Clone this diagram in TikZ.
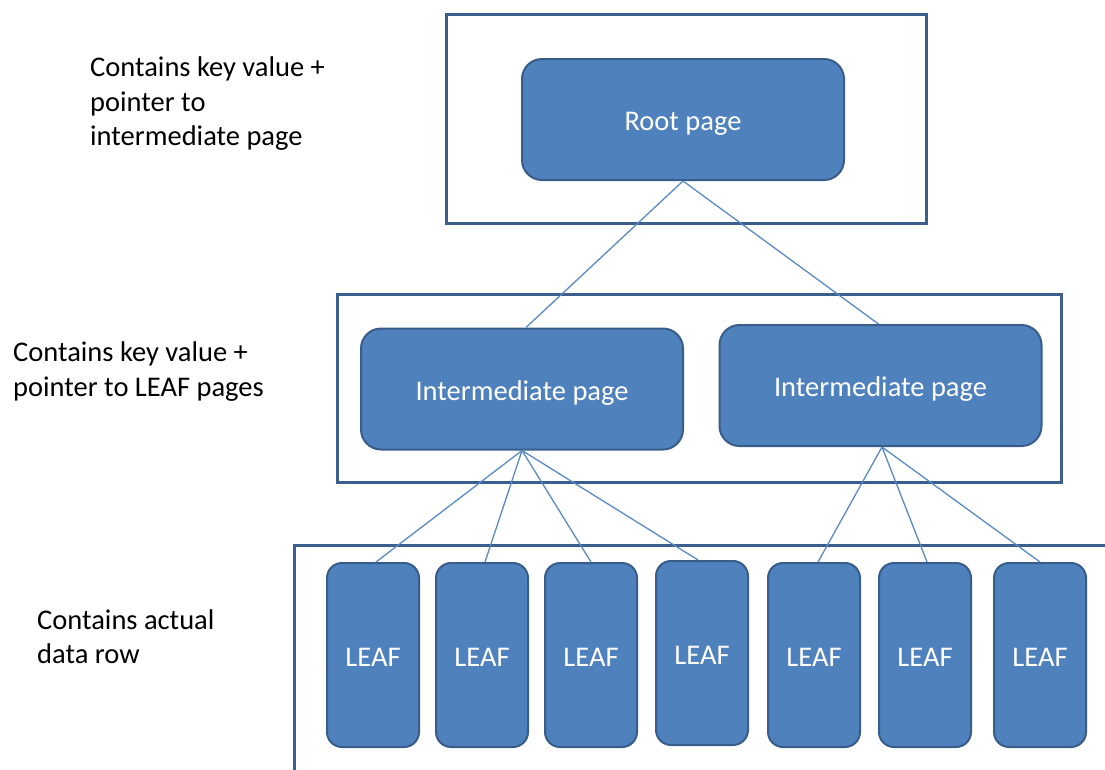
\documentclass[tikz,border=0pt]{standalone}
\usepackage{fontspec}
\setmainfont{Carlito}
\definecolor{boxfill}{HTML}{4F81BD}
\definecolor{boxline}{HTML}{385D8A}
\definecolor{framecol}{HTML}{3A5F8C}
\definecolor{linkcol}{HTML}{5A8AC6}
\tikzset{
  frame/.style={draw=framecol, line width=3pt},
  page/.style={draw=boxline, fill=boxfill, line width=2pt, text=white,
    rounded corners=20pt, minimum width=322pt, minimum height=121pt,
    inner sep=0pt, text height=22pt, text depth=0pt,
    font=\fontsize{28.5}{34}\selectfont},
  leafpage/.style={page, rounded corners=15pt, minimum width=92pt, minimum height=184pt},
  link/.style={draw=linkcol, line width=1.3pt},
  note/.style={anchor=north west, align=left, inner sep=0pt, text=black,
    font=\fontsize{28.5}{34.5}\selectfont}
}
\begin{document}
\begin{tikzpicture}[x=1pt, y=-1pt]
  \clip (0,0) rectangle (1105,769);

  % level frames
  \draw[frame] (446,14) rectangle (926,223);
  \draw[frame] (337,294) rectangle (1061,482);
  \draw[frame] (294,545) rectangle (1130,800);

  % root and intermediate pages
  \node[page] (root) at (683,119.5) {Root page};
  \node[page] (int1) at (522,389) {Intermediate page};
  \node[page] (int2) at (880.5,385.5) {Intermediate page};

  % leaf pages
  \node[leafpage] (leaf1) at (373,655) {LEAF};
  \node[leafpage] (leaf2) at (482,655) {LEAF};
  \node[leafpage] (leaf3) at (591,655) {LEAF};
  \node[leafpage] (leaf4) at (702,653) {LEAF};
  \node[leafpage] (leaf5) at (814,655) {LEAF};
  \node[leafpage] (leaf6) at (925,655) {LEAF};
  \node[leafpage] (leaf7) at (1040,655) {LEAF};

  % tree links
  \draw[link] (root.south) -- ([xshift=4pt]int1.north);
  \draw[link] (root.south) -- ([xshift=-2pt]int2.north);
  \draw[link] (int1.south) -- ([xshift=3pt]leaf1.north);
  \draw[link] (int1.south) -- ([xshift=3pt]leaf2.north);
  \draw[link] (int1.south) -- (leaf3.north);
  \draw[link] (int1.south) -- ([xshift=-4pt]leaf4.north);
  \draw[link] ([xshift=1.5pt]int2.south) -- ([xshift=4pt]leaf5.north);
  \draw[link] ([xshift=1.5pt]int2.south) -- ([xshift=2pt]leaf6.north);
  \draw[link] ([xshift=1.5pt]int2.south) -- (leaf7.north);

  % level descriptions
  \node[note] (noteroot) at (90,57) {Contains key value +\\pointer to\\intermediate page};
  \node[note] (noteint) at (13,342) {Contains key value +\\pointer to LEAF pages};
  \node[note] (noteleaf) at (37,609) {Contains actual\\data row};
\end{tikzpicture}
\end{document}
